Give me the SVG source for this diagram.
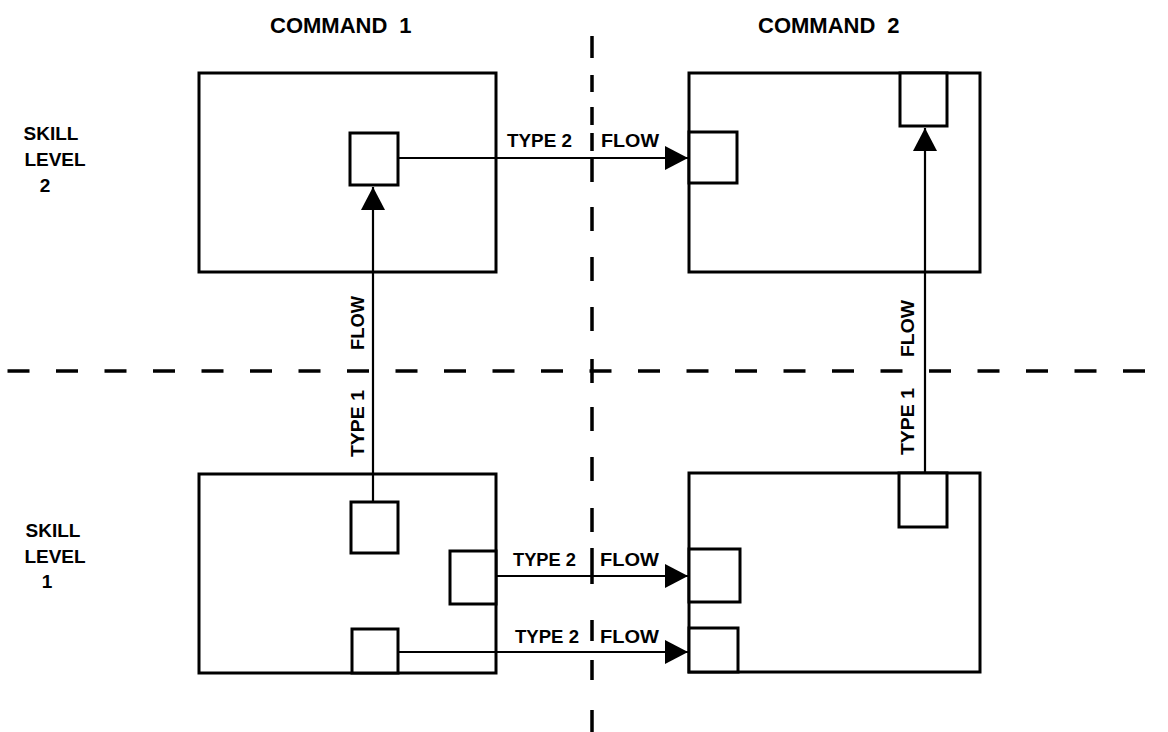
<svg xmlns="http://www.w3.org/2000/svg" width="1168" height="732" viewBox="0 0 1168 732">
  <style>
    .lbl { font-family: "Liberation Sans", Arial, sans-serif; font-weight: bold; font-size: 19px; fill: #000; }
    .hdr { font-family: "Liberation Sans", Arial, sans-serif; font-weight: bold; font-size: 22px; fill: #000; }
    .box { fill: none; stroke: #000; stroke-width: 3; }
    .sub { fill: #fff; stroke: #000; stroke-width: 3; }
    .conn { fill: none; stroke: #000; stroke-width: 2.2; }
    .div { fill: none; stroke: #000; stroke-width: 3.5; }
  </style>
  <defs>
    <marker id="arrow" markerUnits="userSpaceOnUse" markerWidth="23" markerHeight="24" viewBox="0 0 23 24" refX="23" refY="12" orient="auto">
      <path d="M0,0 L23,12 L0,24 Z" fill="#000"/>
    </marker>
  </defs>
  <rect width="1168" height="732" fill="#fff"/>

  <g id="dividers">
    <path class="div" stroke-dasharray="22 26.5" d="M7.5,371 H1168"/>
    <path class="div" d="M592,36 V58 M592,75 V92 M592,107 V125 M592,133 V151 M592,158 V182 M592,207 V231 M592,257 V281 M592,307 V331 M592,359 V383 M592,407 V431 M592,457 V481 M592,508 V532 M592,548 V584 M592,620 V641 M592,660 V680 M592,710 V732"/>
  </g>

  <g id="headers">
    <text class="hdr" x="270" y="33">COMMAND<tspan dx="12">1</tspan></text>
    <text class="hdr" x="758" y="33">COMMAND<tspan dx="12">2</tspan></text>
  </g>

  <g id="skill-level-2">
    <text class="lbl" text-anchor="middle"><tspan x="51" y="140">SKILL</tspan><tspan x="55" y="166">LEVEL</tspan><tspan x="45" y="192">2</tspan></text>
  </g>
  <g id="skill-level-1">
    <text class="lbl" text-anchor="middle"><tspan x="53" y="537">SKILL</tspan><tspan x="55" y="563">LEVEL</tspan><tspan x="47" y="588">1</tspan></text>
  </g>

  <g id="c1-level2">
    <rect class="box" x="199" y="73" width="297" height="199"/>
    <rect class="sub" x="350" y="133" width="48" height="52"/>
  </g>
  <g id="c2-level2">
    <rect class="box" x="689" y="73" width="291" height="199"/>
    <rect class="sub" x="689" y="132" width="48" height="51"/>
    <rect class="sub" x="900" y="73" width="47" height="53"/>
  </g>
  <g id="c1-level1">
    <rect class="box" x="199" y="474" width="297" height="199"/>
    <rect class="sub" x="351" y="502" width="47" height="51"/>
    <rect class="sub" x="450" y="551" width="46" height="53"/>
    <rect class="sub" x="352" y="629" width="46" height="44"/>
  </g>
  <g id="c2-level1">
    <rect class="box" x="689" y="473" width="291" height="199"/>
    <rect class="sub" x="899" y="473" width="48" height="54"/>
    <rect class="sub" x="689" y="549" width="51" height="53"/>
    <rect class="sub" x="689" y="628" width="49" height="44"/>
  </g>

  <g id="connectors">
    <line class="conn" x1="373" y1="502" x2="373" y2="187" marker-end="url(#arrow)"/>
    <line class="conn" x1="398" y1="158" x2="688" y2="158" marker-end="url(#arrow)"/>
    <line class="conn" x1="925" y1="473" x2="925" y2="128" marker-end="url(#arrow)"/>
    <line class="conn" x1="496" y1="576" x2="688" y2="576" marker-end="url(#arrow)"/>
    <line class="conn" x1="398" y1="652" x2="688" y2="652" marker-end="url(#arrow)"/>
  </g>

  <g id="connector-labels">
    <text class="lbl"><tspan x="507" y="147" textLength="65" lengthAdjust="spacingAndGlyphs">TYPE 2</tspan> <tspan x="601" y="147" textLength="58" lengthAdjust="spacingAndGlyphs">FLOW</tspan></text>
    <text class="lbl"><tspan x="513" y="566" textLength="63" lengthAdjust="spacingAndGlyphs">TYPE 2</tspan> <tspan x="600" y="566" textLength="59" lengthAdjust="spacingAndGlyphs">FLOW</tspan></text>
    <text class="lbl"><tspan x="515" y="643" textLength="64" lengthAdjust="spacingAndGlyphs">TYPE 2</tspan> <tspan x="600" y="643" textLength="59" lengthAdjust="spacingAndGlyphs">FLOW</tspan></text>
    <text class="lbl" transform="translate(364,457) rotate(-90)"><tspan x="0" y="0" textLength="67" lengthAdjust="spacingAndGlyphs">TYPE 1</tspan> <tspan x="107" y="0" textLength="54" lengthAdjust="spacingAndGlyphs">FLOW</tspan></text>
    <text class="lbl" transform="translate(914,455) rotate(-90)"><tspan x="0" y="0" textLength="67" lengthAdjust="spacingAndGlyphs">TYPE 1</tspan> <tspan x="98" y="0" textLength="57" lengthAdjust="spacingAndGlyphs">FLOW</tspan></text>
  </g>
</svg>
